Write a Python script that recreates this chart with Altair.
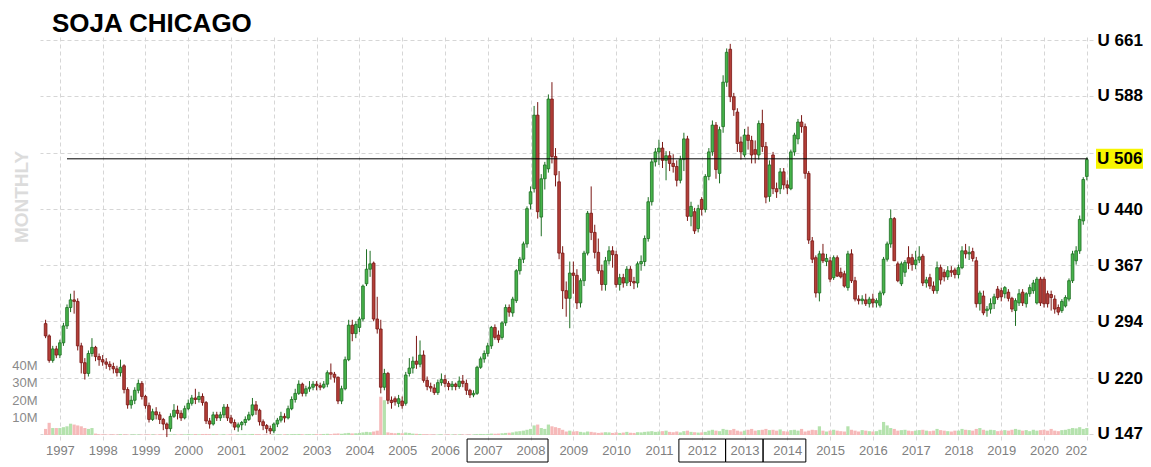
import altair as alt
import pandas as pd

TITLE = "SOJA CHICAGO"
SIDE_LABEL = "MONTHLY"
START_MONTH = -4          # first candle: Sep 1996 (months counted from Jan 1997)

# Monthly candles, Sep 1996 .. Jan 2021 (one row of text per year)
OPEN = [
    291, 275, 243, 258,
    250, 266, 288, 312, 322, 320, 262, 240, 226, 252, 260, 248,
    244, 241, 238, 235, 232, 227, 236, 205, 185, 191, 204, 213,
    196, 184, 166, 176, 172, 166, 160, 154, 170, 178, 174, 168,
    180, 187, 194, 192, 196, 188, 164, 160, 172, 168, 172, 182,
    168, 162, 156, 159, 162, 166, 172, 185, 178, 163, 158, 154,
    151, 160, 165, 170, 168, 180, 192, 200, 212, 200, 206, 208,
    212, 210, 208, 212, 227, 225, 221, 190, 206, 244, 289, 278,
    286, 297, 343, 362, 370, 297, 284, 208, 226, 191, 193, 187,
    190, 187, 226, 233, 242, 238, 250, 217, 209, 207, 201, 214,
    218, 213, 209, 212, 209, 216, 213, 204, 198, 200, 234, 245,
    252, 262, 286, 276, 273, 292, 312, 305, 321, 360, 375, 395,
    447, 467, 563, 430, 480, 493, 584, 509, 476, 383, 334, 324,
    357, 354, 318, 347, 383, 435, 410, 384, 360, 342, 373, 386,
    381, 342, 351, 344, 362, 346, 344, 369, 372, 402, 450, 502,
    515, 520, 504, 510, 500, 496, 478, 505, 532, 431, 437, 415,
    453, 440, 483, 515, 550, 487, 548, 606, 649, 587, 567, 528,
    511, 537, 530, 518, 511, 552, 522, 457, 511, 467, 467, 489,
    472, 467, 515, 532, 554, 548, 487, 399, 377, 331, 382, 372,
    373, 351, 377, 358, 356, 338, 382, 347, 323, 321, 322, 317,
    323, 318, 315, 331, 375, 395, 428, 369, 343, 358, 377, 377,
    368, 374, 379, 344, 351, 340, 334, 364, 358, 352, 360, 361,
    355, 364, 386, 382, 385, 373, 317, 327, 308, 310, 317, 336,
    334, 330, 332, 324, 308, 318, 332, 317, 330, 334, 318, 349,
    349, 330, 329, 323, 312, 308, 314, 323, 347, 373, 386, 425,
    483,
]
HIGH = [
    296, 277, 262, 262,
    270, 292, 316, 330, 334, 324, 266, 246, 256, 272, 262, 252,
    250, 246, 242, 240, 236, 244, 238, 208, 197, 208, 218, 216,
    198, 188, 180, 182, 176, 168, 162, 174, 186, 184, 178, 184,
    192, 198, 206, 202, 200, 190, 168, 176, 176, 176, 186, 186,
    172, 166, 162, 164, 170, 176, 194, 190, 180, 166, 160, 158,
    162, 168, 176, 174, 184, 196, 206, 217, 214, 210, 216, 216,
    216, 214, 216, 230, 239, 228, 222, 210, 248, 296, 296, 294,
    300, 342, 388, 386, 372, 326, 296, 232, 228, 196, 196, 198,
    196, 228, 246, 248, 275, 269, 256, 222, 214, 212, 218, 226,
    224, 216, 216, 214, 222, 224, 218, 206, 204, 236, 248, 256,
    266, 288, 290, 282, 294, 316, 316, 326, 362, 378, 398, 444,
    470, 575, 580, 486, 502, 590, 606, 520, 490, 392, 346, 372,
    372, 362, 350, 386, 438, 470, 420, 402, 368, 378, 392, 392,
    386, 356, 356, 366, 366, 352, 372, 380, 406, 456, 506, 520,
    531, 528, 516, 516, 512, 504, 510, 540, 536, 450, 442, 446,
    456, 486, 520, 556, 554, 548, 615, 650, 656, 592, 572, 535,
    545, 548, 536, 530, 556, 570, 528, 504, 515, 475, 494, 494,
    478, 518, 540, 558, 563, 552, 490, 404, 380, 386, 395, 382,
    378, 380, 380, 364, 360, 386, 388, 352, 328, 328, 330, 326,
    330, 324, 334, 378, 398, 440, 430, 372, 372, 374, 392, 382,
    386, 392, 382, 352, 356, 346, 372, 368, 362, 366, 366, 364,
    368, 392, 395, 392, 390, 378, 334, 334, 314, 324, 330, 340,
    338, 340, 336, 326, 324, 336, 336, 332, 342, 348, 352, 352,
    352, 334, 334, 328, 316, 323, 328, 350, 386, 392, 432, 482,
    508,
]
LOW = [
    272, 240, 240, 246,
    246, 262, 284, 306, 304, 256, 226, 218, 222, 248, 242, 236,
    236, 232, 230, 226, 222, 222, 200, 180, 180, 186, 200, 192,
    180, 162, 164, 166, 160, 152, 143, 150, 168, 166, 164, 166,
    178, 184, 186, 188, 184, 160, 154, 158, 164, 164, 168, 164,
    160, 152, 150, 152, 158, 164, 170, 172, 158, 152, 148, 147,
    148, 156, 162, 162, 166, 178, 188, 198, 196, 196, 202, 204,
    204, 204, 206, 208, 218, 214, 186, 186, 204, 242, 268, 272,
    280, 294, 340, 352, 294, 278, 200, 204, 186, 180, 184, 182,
    180, 184, 222, 226, 232, 234, 214, 204, 202, 198, 198, 210,
    208, 204, 204, 204, 206, 208, 198, 194, 195, 198, 232, 240,
    248, 258, 270, 266, 270, 288, 300, 300, 318, 355, 370, 390,
    440, 462, 428, 405, 466, 488, 500, 470, 375, 310, 300, 285,
    330, 310, 312, 340, 380, 400, 376, 356, 334, 334, 368, 364,
    338, 334, 338, 340, 340, 336, 338, 360, 366, 398, 445, 496,
    498, 494, 478, 490, 488, 470, 474, 490, 425, 418, 408, 410,
    432, 436, 478, 510, 480, 474, 540, 600, 580, 562, 515, 505,
    508, 518, 500, 500, 505, 515, 448, 450, 460, 455, 460, 466,
    460, 465, 510, 525, 540, 480, 395, 370, 325, 320, 370, 366,
    345, 348, 352, 350, 338, 334, 344, 320, 316, 316, 314, 312,
    312, 312, 312, 328, 372, 390, 373, 345, 340, 352, 362, 360,
    362, 370, 340, 338, 336, 330, 330, 342, 346, 348, 352, 350,
    350, 362, 376, 374, 372, 312, 308, 302, 300, 304, 310, 322,
    320, 324, 320, 306, 288, 314, 314, 312, 326, 330, 316, 314,
    312, 312, 308, 304, 302, 305, 312, 320, 344, 368, 382, 420,
    478,
]
CLOSE = [
    275, 243, 258, 250,
    266, 288, 312, 322, 320, 262, 240, 226, 252, 260, 248, 244,
    241, 238, 235, 232, 227, 234, 205, 185, 191, 204, 213, 196,
    184, 166, 176, 172, 166, 160, 154, 170, 178, 174, 168, 180,
    187, 194, 192, 196, 188, 164, 160, 172, 168, 172, 182, 168,
    162, 156, 159, 162, 166, 172, 185, 178, 163, 158, 154, 151,
    160, 165, 170, 168, 180, 192, 200, 212, 200, 206, 208, 212,
    210, 208, 212, 227, 225, 221, 190, 206, 244, 289, 278, 290,
    297, 340, 362, 369, 297, 284, 208, 226, 191, 188, 189, 193,
    184, 224, 233, 242, 238, 250, 217, 209, 207, 201, 214, 218,
    213, 209, 212, 209, 216, 213, 204, 198, 200, 234, 245, 252,
    262, 286, 273, 270, 292, 312, 306, 323, 360, 375, 395, 441,
    463, 563, 437, 480, 498, 584, 509, 485, 383, 334, 324, 357,
    354, 318, 347, 383, 435, 410, 384, 360, 342, 373, 386, 381,
    342, 351, 344, 362, 346, 344, 369, 372, 402, 450, 502, 515,
    520, 504, 510, 500, 496, 478, 505, 532, 431, 444, 412, 441,
    440, 483, 515, 550, 492, 544, 606, 645, 587, 570, 526, 515,
    537, 530, 511, 512, 552, 522, 456, 498, 467, 463, 489, 472,
    468, 515, 537, 554, 548, 487, 400, 375, 331, 382, 373, 376,
    349, 377, 353, 352, 340, 382, 347, 323, 321, 323, 317, 323,
    318, 321, 331, 375, 395, 428, 373, 347, 369, 371, 370, 368,
    374, 378, 344, 348, 340, 334, 364, 348, 352, 360, 358, 355,
    364, 386, 382, 384, 376, 317, 331, 305, 310, 317, 326, 325,
    326, 338, 324, 310, 321, 330, 318, 330, 338, 344, 349, 318,
    317, 317, 325, 310, 306, 320, 325, 347, 382, 386, 427, 479,
    505,
]
VOLUME_M = [
    3.5, 7.0, 4.0, 4.0,
    4.0, 4.5, 5.0, 6.5, 6.0, 5.5, 5.0, 4.0, 3.5, 4.0, 0.8, 0.4,
    0.4, 0.3, 0.3, 0.4, 0.3, 0.5, 0.4, 0.3, 0.3, 0.4, 0.3, 0.3,
    0.3, 0.4, 0.3, 0.3, 0.4, 0.3, 0.5, 0.4, 0.3, 0.3, 0.3, 0.4,
    0.5, 0.4, 0.5, 0.4, 0.5, 0.6, 0.4, 0.5, 0.4, 0.3, 0.4, 0.3,
    0.4, 0.3, 0.3, 0.4, 0.3, 0.4, 0.6, 0.5, 0.4, 0.3, 0.3, 0.3,
    0.3, 0.4, 0.3, 0.4, 0.4, 0.5, 0.5, 0.6, 0.4, 0.4, 0.5, 0.4,
    0.5, 0.4, 0.6, 0.7, 0.5, 0.8, 0.9, 0.7, 1.0, 1.2, 0.9, 1.0,
    1.2, 1.5, 1.8, 1.6, 2.0, 2.5, 22.0, 20.0, 1.5, 1.2, 1.0, 1.2,
    1.0, 1.4, 1.2, 0.8, 0.7, 0.6, 0.5, 0.4, 0.4, 0.3, 0.3, 0.3,
    0.3, 0.3, 0.3, 0.3, 0.4, 0.3, 0.3, 0.3, 0.3, 0.5, 0.6, 0.5,
    0.6, 0.8, 0.7, 0.8, 1.0, 1.2, 1.3, 1.5, 2.0, 2.2, 2.5, 3.0,
    3.5, 5.5, 6.0, 4.0, 3.5, 6.0, 5.0, 4.5, 4.0, 3.0, 2.0, 2.5,
    2.0, 2.2, 1.8, 1.5, 2.0, 1.8, 1.5, 1.2, 1.4, 1.6, 1.5, 1.2,
    1.5, 1.2, 1.4, 1.8, 1.3, 1.2, 1.6, 1.5, 1.8, 2.0, 2.2, 1.8,
    2.0, 2.2, 2.5, 1.8, 1.6, 2.0, 1.5, 2.2, 2.5, 1.8, 1.6, 1.4,
    1.5, 1.8, 2.5, 3.0, 2.5, 2.2, 3.5, 3.0, 2.8, 3.5, 2.5, 2.0,
    2.5, 3.0, 3.5, 2.5, 2.8, 3.0, 3.5, 2.8, 3.0, 2.5, 3.2, 2.2,
    2.0, 2.8, 3.0, 2.5, 3.5, 2.0, 2.5, 3.0, 2.8, 5.0, 2.5, 2.0,
    2.5, 3.0, 2.5, 2.2, 2.0, 5.0, 3.0, 2.5, 2.0, 2.8, 2.5, 2.2,
    2.0, 2.2, 3.0, 7.5, 5.5, 4.0, 3.5, 2.5, 2.8, 3.0, 2.5, 2.2,
    2.5, 2.8, 3.0, 2.5, 2.2, 2.5, 3.5, 2.8, 2.5, 2.2, 2.0, 2.5,
    2.5, 3.5, 3.0, 2.8, 2.5, 3.5, 4.0, 3.0, 2.5, 3.0, 2.8, 2.2,
    2.5, 2.8, 2.5, 3.0, 3.5, 3.0, 2.5, 2.8, 2.2, 3.0, 2.5, 2.8,
    3.0, 2.5, 3.5, 2.5, 2.2, 2.8, 3.0, 3.5, 4.0, 3.8, 4.5, 3.5,
    4.0,
]

YEAR_TICKS = list(range(0, 289, 12))      # January of each year, 1997..2021
YEAR_LABELS = [str(1997 + i) for i in range(24)] + ["202"]
PRICE_TICKS = [147, 220, 294, 367, 440, 514, 588, 661]
HIDDEN_PRICE_TICK = 514
VOLUME_TICKS = [10, 20, 30, 40]
LAST_PRICE = 506
LAST_PRICE_FROM = 2
BOX_FROM = [114.2, 173.6, 186.7, 197.2]
BOX_TO = [136.9, 186.7, 197.2, 209.2]

X_DOMAIN = [-4.17, 288.33]
PRICE_DOMAIN = [139.17, 664.93]
VOL_DOMAIN = [-2.874, 228.7]

FONT = "Liberation Sans"
UP_FILL, UP_LINE = "#47b34b", "#1d6e22"
DN_FILL, DN_LINE = "#b33f38", "#7a1714"
UP_VOL, DN_VOL = "#b4e2ad", "#f6b9b9"
GRID = "#d6d6d6"

n = len(CLOSE)
df = pd.DataFrame({
    "t": list(range(START_MONTH, START_MONTH + n)),
    "open": OPEN, "high": HIGH, "low": LOW, "close": CLOSE, "vol": VOLUME_M,
})
df["zero"] = 0.0

is_up = "datum.close >= datum.open"
xs = alt.Scale(domain=X_DOMAIN, nice=False, zero=False)
ps = alt.Scale(domain=PRICE_DOMAIN, nice=False, zero=False)
vs = alt.Scale(domain=VOL_DOMAIN, nice=False, zero=False)

label_arr = "[" + ",".join("'%s'" % s for s in YEAR_LABELS) + "]"
x_axis = alt.Axis(
    values=YEAR_TICKS, labelExpr=f"{label_arr}[round(datum.value / 12)]",
    title=None, grid=True, gridColor=GRID, gridDash=[4, 3], gridWidth=1,
    domain=False, ticks=False, labelColor="#808080", labelFont=FONT,
    labelFontSize=13, labelPadding=4, labelFlush=False, labelOverlap=False,
    labelAlign={"condition": {"test": f"datum.value == {YEAR_TICKS[-1]}", "value": "right"},
                "value": "center"},
)
p_axis = alt.Axis(
    orient="right", values=PRICE_TICKS,
    labelExpr=f"datum.value == {HIDDEN_PRICE_TICK} ? '' : 'U ' + datum.value",
    title=None, grid=True, gridColor=GRID, gridDash=[4, 3], gridWidth=1,
    domain=False, ticks=False, labelColor="black", labelFont=FONT,
    labelFontSize=17, labelFontWeight="bold", labelPadding=4,
    labelFlush=False, labelOverlap=False, labelBound=False,
)
v_axis = alt.Axis(
    orient="left", values=VOLUME_TICKS, labelExpr="datum.value + 'M'",
    title=None, grid=False, domain=False, ticks=False, labelColor="#8a8a8a",
    labelFont=FONT, labelFontSize=13, labelPadding=3, labelFlush=False,
    labelOverlap=False, labelBound=False,
)

X = lambda f="t": alt.X(f"{f}:Q", scale=xs, axis=x_axis)
PY = lambda f: alt.Y(f"{f}:Q", scale=ps, axis=p_axis)

base = alt.Chart(df)

volume = base.mark_bar(width=3.2).encode(
    x=X(),
    y=alt.Y("vol:Q", scale=vs, axis=v_axis),
    y2="zero:Q",
    fill=alt.condition(is_up, alt.value(UP_VOL), alt.value(DN_VOL)),
)

wicks = base.mark_rule(strokeWidth=1).encode(
    x=X(), y=PY("low"), y2="high:Q",
    color=alt.condition(is_up, alt.value(UP_LINE), alt.value(DN_LINE)),
)
bodies = base.mark_bar(width=2.7, strokeWidth=0.8).encode(
    x=X(), y=PY("open"), y2="close:Q",
    fill=alt.condition(is_up, alt.value(UP_FILL), alt.value(DN_FILL)),
    stroke=alt.condition(is_up, alt.value(UP_LINE), alt.value(DN_LINE)),
)

lvl = pd.DataFrame({"level": [LAST_PRICE], "t0": [LAST_PRICE_FROM], "t1": [X_DOMAIN[1]],
                    "txt": ["U %d" % LAST_PRICE]})
ref_line = alt.Chart(lvl).mark_rule(color="black", strokeWidth=1).encode(
    x=X("t0"), x2="t1:Q", y=PY("level"))
ref_box = alt.Chart(lvl).mark_rect(color="#f7f500", yOffset=-10, y2Offset=10).encode(
    x=alt.value(1056), x2=alt.value(1103), y=PY("level"), y2="level:Q")
ref_txt = alt.Chart(lvl).mark_text(
    align="left", baseline="middle", font=FONT, fontSize=17, fontWeight="bold",
    color="black").encode(x=alt.value(1057), y=PY("level"), text="txt:N")

boxes = alt.Chart(pd.DataFrame({"t0": BOX_FROM, "t1": BOX_TO})).mark_rect(
    fillOpacity=0, stroke="black", strokeWidth=1).encode(
    x=X("t0"), x2="t1:Q", y=alt.value(402), y2=alt.value(425))

title = alt.Chart(pd.DataFrame({"s": [TITLE]})).mark_text(
    align="left", baseline="alphabetic", font=FONT, fontSize=26, fontWeight="bold",
    color="black").encode(x=alt.value(12), y=alt.value(-5), text="s:N")
side = alt.Chart(pd.DataFrame({"s": [SIDE_LABEL]})).mark_text(
    align="center", baseline="middle", angle=270, font=FONT, fontSize=19,
    fontWeight="bold", color="#dcdcdc").encode(
    x=alt.value(-18), y=alt.value(160), text="s:N")

price = alt.layer(wicks, bodies, ref_line, ref_box, ref_txt, boxes, title, side)

chart = alt.layer(volume, price).resolve_scale(y="independent").properties(
    width=1053, height=403,
    autosize=alt.AutoSizeParams(type="none"),
    padding={"left": 32, "top": 29, "right": 50, "bottom": 23},
    background="white",
).configure_view(stroke=None)

chart.save("out.html", embed_options={"renderer": "svg", "actions": False})
